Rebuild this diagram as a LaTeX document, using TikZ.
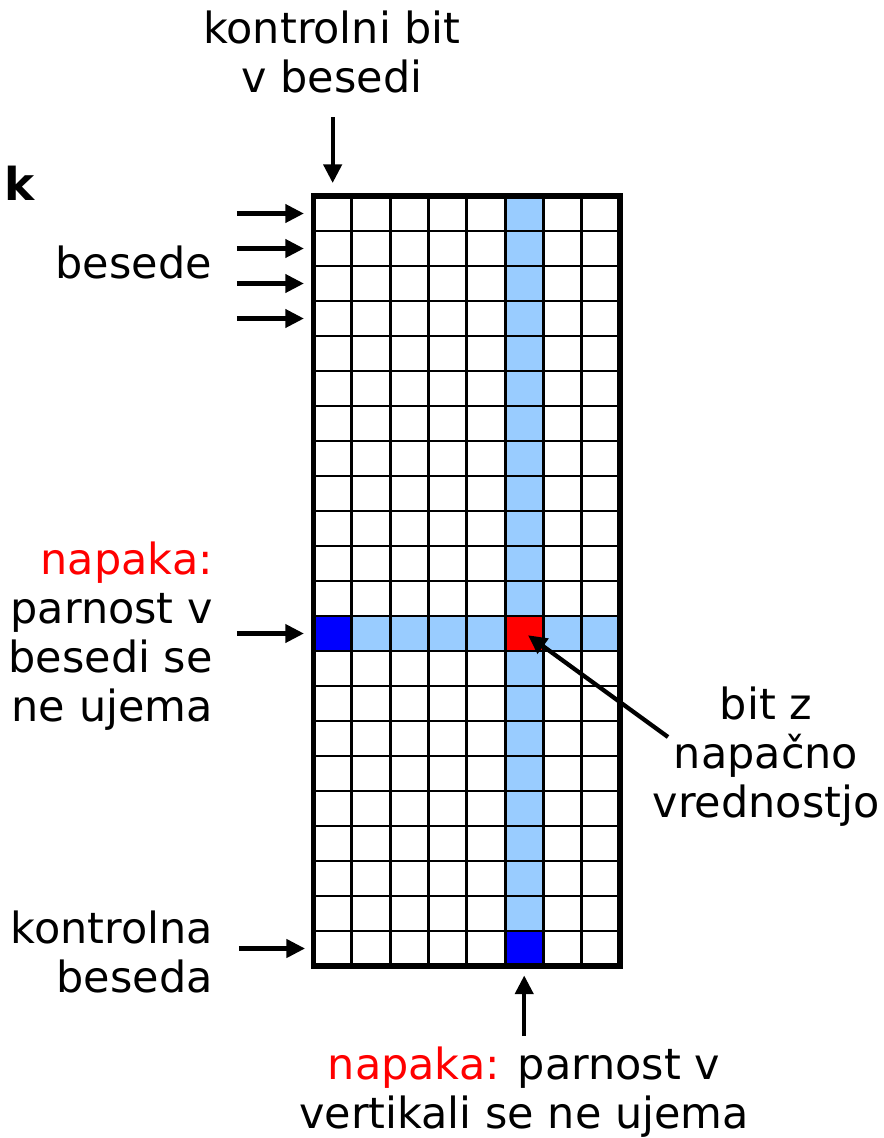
\documentclass[tikz,border=0pt]{standalone}
\usepackage{fontspec}
\setmainfont{DejaVu Sans}
\usetikzlibrary{arrows.meta, positioning, calc}
\definecolor{lightblue}{HTML}{99CCFF}
\definecolor{errblue}{HTML}{0000FF}
\definecolor{errred}{HTML}{FF0000}

\begin{document}
\begin{tikzpicture}[x=0.75pt, y=-0.75pt,
  pointer/.style={-{Triangle[length=14pt,width=13.5pt]}, line width=3.2pt},
  gridline/.style={line width=2.2pt},
  frame/.style={line width=4.2pt},
  lbl/.style={font=\fontsize{32.2}{36.75}\selectfont, inner sep=0pt}]
  \useasboundingbox (0,0) rectangle (883,1138);

  % the code words, one row per word, 8 bits each
  \begin{scope}[shift={(313.5,196)}, x=28.734pt, y=-26.25pt]
    \fill[lightblue] (5,0) rectangle (6,22);
    \fill[lightblue] (0,12) rectangle (8,13);
    \fill[errblue] (0,12) rectangle (1,13);
    \fill[errred] (5,12) rectangle (6,13);
    \fill[errblue] (5,21) rectangle (6,22);
    \foreach \c in {1,...,7}
      \draw[gridline] (\c,0) -- (\c,22);
    \foreach \r in {1,...,21}
      \draw[gridline] (0,\r) -- (8,\r);
    \draw[frame] (0,0) rectangle (8,22);
    % arrow ends
    \coordinate (ctrl bit) at (0.5,-0.37);
    \coordinate (ctrl bit tail) at (0.5,-2.25);
    \foreach \r in {1,...,4} {
      \coordinate (word\r) at (-0.25,\r-0.5);
      \coordinate (word\r tail) at (-2,\r-0.5);
    }
    \coordinate (bad word) at (-0.25,12.5);
    \coordinate (bad word tail) at (-2,12.5);
    \coordinate (ctrl word) at (-0.22,21.5);
    \coordinate (ctrl word tail) at (-1.95,21.5);
    \coordinate (bad col) at (5.5,22.27);
    \coordinate (bad col tail) at (5.5,24);
    \coordinate (bad bit) at (5.6,12.55);
  \end{scope}

  % multi-line labels sit on the baseline of their last line
  \node[lbl, align=center, anchor=base] (ctrlbit) at (332,93) {kontrolni bit\\v besedi};
  \node[lbl, anchor=base west, font=\fontsize{34}{36.75}\selectfont\bfseries] (k) at (4,200) {k};
  \node[lbl, anchor=base east] (words) at (212,278) {besede};
  \node[lbl, align=right, anchor=base east] (rowerr) at (213,721)
    {\textcolor{errred}{napaka:}\\parnost v\\besedi se\\ne ujema};
  \node[lbl, align=center, anchor=base] (badbit) at (766,817) {bit z\\napačno\\vrednostjo};
  \coordinate (bad bit tail) at (668,737);
  \node[lbl, align=right, anchor=base east] (ctrlword) at (213,992) {kontrolna\\beseda};
  \node[lbl, align=center, anchor=base] (colerr) at (524,1128)
    {\textcolor{errred}{napaka:} parnost v\\vertikali se ne ujema};

  \draw[pointer] (ctrl bit tail) -- (ctrl bit);
  \foreach \r in {1,...,4}
    \draw[pointer] (word\r tail) -- (word\r);
  \draw[pointer] (bad word tail) -- (bad word);
  \draw[pointer] (ctrl word tail) -- (ctrl word);
  \draw[pointer] (bad col tail) -- (bad col);
  \draw[pointer] (bad bit tail) -- (bad bit);
\end{tikzpicture}
\end{document}
